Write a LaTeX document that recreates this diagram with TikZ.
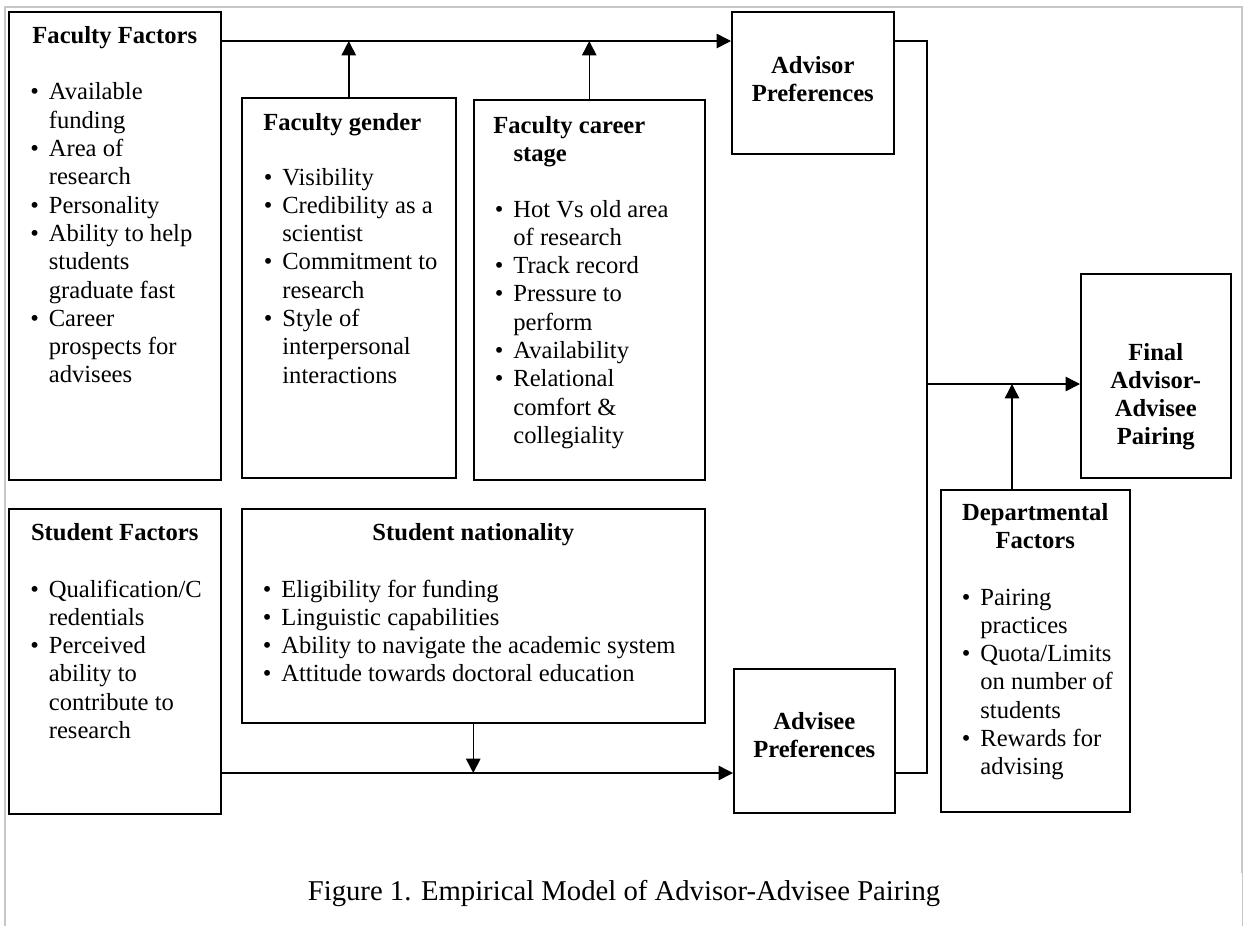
\documentclass[tikz,border=0pt]{standalone}
\usepackage{fontspec}
\setmainfont{Liberation Serif}
\usetikzlibrary{arrows.meta}

\newcommand{\bodyfont}{\fontsize{12pt}{13.8pt}\selectfont}
\newcommand{\itm}{\makebox[9pt][l]{\textbullet}}
\newcommand{\cnt}{\hspace*{9pt}}

\tikzset{
  factor/.style={draw, line width=0.75pt, inner sep=0pt, anchor=north west},
  boxsize/.style 2 args={minimum width=#1*0.4878pt, minimum height=#2*0.4878pt},
  head/.style={font=\bodyfont\bfseries, align=center, anchor=base, inner sep=0pt},
  headl/.style={font=\bodyfont\bfseries, align=left, anchor=base west, inner sep=0pt},
  items/.style={font=\bodyfont, align=left, anchor=base west, inner sep=0pt},
  link/.style={line width=0.75pt},
  arr/.style={-{Triangle[length=7pt,width=7pt]}},
  frame/.style={draw=black!22, line width=0.75pt},
  caption/.style={font=\fontsize{14pt}{16pt}\selectfont, anchor=base, inner sep=0pt}
}

\begin{document}
\begin{tikzpicture}[x=0.4878pt, y=-0.4878pt]
    \useasboundingbox (0,0) rectangle (1246,926);
    \draw[frame] (5,926) -- (5,7) -- (1242,7) -- (1242,873);
    \draw[frame, line width=0.5pt] (1242,873) -- (1242,926);

    \node[factor, boxsize={212}{468}] (ff) at (8,11) {};
    \node[factor, boxsize={214}{380}] (fg) at (241,97) {};
    \node[factor, boxsize={231}{380}] (fc) at (473,99) {};
    \node[factor, boxsize={162}{142}] (ap) at (731,11) {};
    \node[factor, boxsize={150}{204}] (fp) at (1080,273) {};
    \node[factor, boxsize={212}{305}] (sf) at (8,508) {};
    \node[factor, boxsize={463}{214}] (sn) at (241,508) {};
    \node[factor, boxsize={161}{144}] (ad) at (733,668) {};
    \node[factor, boxsize={189}{322}] (df) at (940,489) {};

    % text nodes sit on the baseline of their last line (28.29 = one line)
    \node[head] (fftitle) at ([shift={(0,32)}]ff.north) {Faculty Factors};
    \node[items] (fflist) at ([shift={(22,89+10*28.29)}]ff.north west)
      {\itm Available\\ \cnt funding\\ \itm Area of\\ \cnt research\\ \itm Personality\\
       \itm Ability to help\\ \cnt students\\ \cnt graduate fast\\ \itm Career\\
       \cnt prospects for\\ \cnt advisees};

    \node[headl] (fgtitle) at ([shift={(22,33)}]fg.north west) {Faculty gender};
    \node[items] (fglist) at ([shift={(22.5,88+7*28.29)}]fg.north west)
      {\itm Visibility\\ \itm Credibility as a\\ \cnt scientist\\ \itm Commitment to\\
       \cnt research\\ \itm Style of\\ \cnt interpersonal\\ \cnt interactions};

    \node[headl] (fctitle) at ([shift={(20,34+28.29)}]fc.north west) {Faculty career\\ \hspace*{9.8pt}stage};
    \node[items] (fclist) at ([shift={(21.5,118+8*28.29)}]fc.north west)
      {\itm Hot Vs old area\\ \cnt of research\\ \itm Track record\\ \itm Pressure to\\
       \cnt perform\\ \itm Availability\\ \itm Relational\\ \cnt comfort \&\\ \cnt collegiality};

    \node[head] (aptitle) at ([shift={(0,62+28.29)}]ap.north) {Advisor\\ Preferences};
    \node[head] (fptitle) at ([shift={(0,87+3*28.29)}]fp.north) {Final\\ Advisor-\\ Advisee\\ Pairing};

    \node[head] (sftitle) at ([shift={(0,32)}]sf.north) {Student Factors};
    \node[items] (sflist) at ([shift={(22,89+5*28.29)}]sf.north west)
      {\itm Qualification/C\\ \cnt redentials\\ \itm Perceived\\ \cnt ability to\\
       \cnt contribute to\\ \cnt research};

    \node[head] (sntitle) at ([shift={(0,32)}]sn.north) {Student nationality};
    \node[items] (snlist) at ([shift={(21.5,89+3*28.29)}]sn.north west)
      {\itm Eligibility for funding\\ \itm Linguistic capabilities\\
       \itm Ability to navigate the academic system\\ \itm Attitude towards doctoral education};

    \node[head] (adtitle) at ([shift={(0,61+28.29)}]ad.north) {Advisee\\ Preferences};

    \node[head] (dftitle) at ([shift={(0,31+28.29)}]df.north) {Departmental\\ Factors};
    \node[items] (dflist) at ([shift={(21.5,116+6*28.29)}]df.north west)
      {\itm Pairing\\ \cnt practices\\ \itm Quota/Limits\\ \cnt on number of\\
       \cnt students\\ \itm Rewards for\\ \cnt advising};

    \coordinate (toprow) at (0,41);
    \coordinate (midrow) at (0,384);
    \coordinate (botrow) at (0,773);
    \coordinate (bracket) at (927,0);
    \coordinate (deptap) at (1012,0);

    \draw[link, arr] (ff.east |- toprow) -- (ap.west |- toprow);
    \draw[link, arr] (fg.north) -- (fg.north |- toprow);
    \draw[link, arr] (fc.north) -- (fc.north |- toprow);
    \draw[link] (ap.east |- toprow) -- (bracket |- toprow) -- (bracket |- botrow) -- (ad.east |- botrow);
    \draw[link, arr] (bracket |- midrow) -- (fp.west |- midrow);
    \draw[link, arr] (deptap |- df.north) -- (deptap |- midrow);
    \draw[link, arr] (sf.east |- botrow) -- (ad.west |- botrow);
    \draw[link, arr] (sn.south) -- (sn.south |- botrow);

    \node[caption] (cap) at (624,900) {Figure 1. Empirical Model of Advisor-Advisee Pairing};
\end{tikzpicture}
\end{document}
